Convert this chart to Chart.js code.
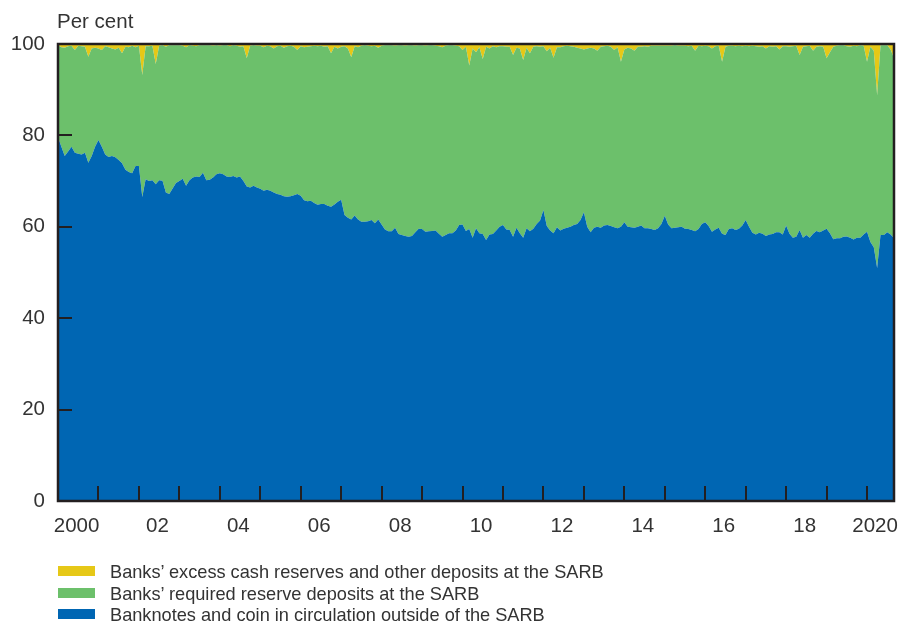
<!DOCTYPE html>
<html>
<head>
<meta charset="utf-8">
<script src="https://cdn.jsdelivr.net/npm/chart.js@4.4.1/dist/chart.umd.min.js"></script>
<style>
  html, body { margin: 0; padding: 0; background: #ffffff; }
  #wrap { position: relative; width: 899px; height: 622px; overflow: hidden; font-family: "Liberation Sans", Arial, sans-serif; color: #333333; }
  #c { position: absolute; left: 0; top: 0; }
  #unit { position: absolute; left: 57px; top: 11px; font-size: 20.5px; line-height: 20.5px; white-space: nowrap; }
  .lg { position: absolute; left: 0; height: 18px; font-size: 18.2px; line-height: 18px; white-space: nowrap; }
  .lg .box { position: absolute; left: 58px; top: 3px; width: 37px; height: 10px; }
  .lg .txt { position: absolute; left: 110px; top: 0; }
</style>
</head>
<body>
<div id="wrap">
  <canvas id="c" width="899" height="622"></canvas>
  <div id="unit">Per cent</div>
  <div id="legend"></div>
</div>
<script>
// ---- Data: monthly shares (per cent), January 2000 to September 2020 ----
const startYear = 2000;
const monthCount = 249;

// Banknotes and coin in circulation outside of the SARB
const banknotes = [
  79.6, 77.5, 75.5, 76.5, 77.5, 76.2, 76.0, 75.8, 76.2, 74.0, 75.5, 77.5,
  79.0, 77.5, 75.8, 75.3, 75.5, 75.2, 74.6, 73.9, 72.5, 72.0, 71.7, 73.3,
  73.3, 66.5, 70.4, 70.0, 70.2, 69.3, 70.2, 70.1, 67.5, 67.2, 68.4, 69.6,
  70.0, 70.5, 69.0, 70.2, 70.8, 71.0, 70.9, 71.8, 70.2, 70.3, 70.8, 71.5,
  71.7, 71.5, 71.0, 70.9, 71.1, 70.8, 71.0, 70.0, 68.8, 68.6, 69.0, 68.6,
  68.3, 67.9, 68.1, 67.9, 67.5, 67.2, 67.0, 66.7, 66.6, 66.7, 66.9, 67.2,
  66.8, 65.8, 65.6, 65.7, 65.2, 64.8, 65.0, 65.0, 64.6, 64.4, 64.9, 65.5,
  65.9, 62.6, 62.0, 61.6, 62.5, 61.6, 61.1, 61.1, 61.2, 61.5, 60.8, 61.6,
  60.5, 59.4, 59.0, 59.0, 59.8, 58.4, 58.2, 58.0, 57.8, 58.0, 58.8, 59.6,
  59.5, 58.9, 59.0, 59.1, 59.2, 58.5, 57.8, 58.2, 58.6, 58.6, 59.2, 60.4,
  60.5, 59.1, 59.5, 57.6, 59.7, 58.6, 58.4, 57.1, 58.3, 58.4, 59.2, 60.0,
  60.4, 59.4, 59.3, 57.8, 59.8, 58.6, 57.6, 59.7, 59.0, 59.6, 60.6, 61.4,
  63.7, 60.2, 59.2, 58.6, 59.9, 59.2, 59.6, 59.8, 60.0, 60.4, 60.6, 61.5,
  63.2, 60.0, 58.8, 59.8, 60.0, 59.8, 60.3, 60.4, 60.2, 59.9, 59.7, 60.0,
  61.0, 60.0, 59.9, 59.8, 60.0, 60.3, 59.7, 59.7, 59.5, 59.3, 59.7, 60.6,
  62.4, 60.5, 59.7, 59.8, 59.9, 60.0, 59.6, 59.5, 59.3, 59.0, 59.5, 60.6,
  61.0, 60.2, 58.9, 59.4, 59.8, 58.5, 58.2, 59.5, 59.7, 59.3, 59.6, 60.3,
  61.5, 60.0, 58.7, 58.3, 58.7, 58.5, 58.0, 58.3, 58.4, 58.8, 58.8, 58.3,
  60.3, 58.5, 57.6, 57.8, 59.3, 57.6, 58.2, 57.6, 58.5, 59.1, 58.8, 59.2,
  59.6, 58.6, 57.3, 57.5, 57.5, 57.8, 57.9, 57.6, 57.2, 57.6, 57.6, 58.3,
  58.9, 56.7, 55.5, 51.0, 58.2, 58.2, 58.8, 58.3, 57.5
];

// Banks' required reserve deposits at the SARB
const requiredReserves = [
  20.1, 21.8, 23.7, 23.0, 22.1, 22.5, 23.6, 23.7, 23.2, 23.2, 23.5, 21.7,
  20.0, 21.2, 23.7, 24.0, 23.5, 23.6, 24.6, 24.1, 26.9, 27.3, 27.9, 26.0,
  26.3, 26.7, 29.1, 29.5, 29.4, 26.3, 29.4, 29.6, 31.9, 32.5, 31.3, 30.1,
  29.7, 29.1, 30.3, 29.5, 28.8, 28.5, 28.8, 27.9, 29.5, 29.4, 28.8, 28.2,
  27.9, 28.2, 28.7, 28.6, 28.6, 28.8, 28.4, 29.5, 28.1, 31.0, 30.7, 31.0,
  31.3, 31.4, 31.5, 31.6, 31.5, 32.3, 32.6, 32.5, 32.9, 32.9, 32.5, 31.5,
  32.7, 33.5, 33.8, 33.8, 34.4, 34.7, 34.6, 34.4, 34.9, 33.6, 34.5, 33.5,
  33.5, 36.9, 37.0, 35.5, 37.0, 37.7, 38.5, 38.6, 38.4, 38.0, 38.8, 37.6,
  39.1, 40.3, 40.7, 40.7, 39.8, 41.3, 41.5, 41.6, 41.9, 41.7, 40.8, 40.1,
  40.2, 40.7, 40.7, 40.6, 40.4, 41.0, 41.5, 41.4, 41.1, 41.1, 40.4, 39.1,
  38.2, 40.3, 35.8, 41.4, 38.5, 40.7, 38.3, 42.3, 40.7, 41.1, 40.1, 39.5,
  39.1, 40.0, 40.1, 39.8, 39.4, 40.4, 38.9, 39.5, 39.0, 39.8, 38.9, 38.0,
  35.8, 38.2, 40.0, 38.4, 39.4, 40.1, 39.9, 39.8, 39.5, 39.0, 38.6, 37.5,
  35.6, 39.0, 40.4, 39.2, 38.5, 39.6, 39.2, 39.2, 39.2, 38.8, 39.6, 36.1,
  37.8, 39.2, 39.1, 38.7, 39.4, 39.1, 39.8, 39.7, 40.1, 40.3, 39.9, 39.0,
  37.2, 39.1, 39.9, 39.9, 39.7, 39.6, 40.0, 40.0, 40.3, 39.5, 40.1, 38.9,
  38.6, 39.3, 40.1, 40.1, 39.8, 37.6, 41.2, 40.1, 39.9, 40.2, 40.0, 39.2,
  38.1, 39.5, 40.9, 41.2, 40.7, 41.0, 41.0, 41.2, 41.0, 40.7, 40.0, 41.2,
  39.2, 40.9, 41.9, 41.8, 38.3, 41.8, 41.3, 42.0, 40.0, 40.3, 40.7, 40.2,
  37.3, 39.6, 42.1, 42.1, 42.2, 41.9, 41.6, 41.8, 42.4, 41.9, 42.1, 41.3,
  37.2, 42.7, 43.0, 37.8, 41.5, 41.5, 40.9, 40.5, 39.4
];

// Banks' excess cash reserves and other deposits at the SARB
const excessReserves = [
  0.3, 0.7, 0.8, 0.5, 0.4, 1.3, 0.4, 0.5, 0.6, 2.8, 1.0, 0.8,
  1.0, 1.3, 0.5, 0.7, 1.0, 1.2, 0.8, 2.0, 0.6, 0.7, 0.4, 0.7,
  0.4, 6.8, 0.5, 0.5, 0.4, 4.4, 0.4, 0.3, 0.6, 0.3, 0.3, 0.3,
  0.3, 0.4, 0.7, 0.3, 0.4, 0.5, 0.3, 0.3, 0.3, 0.3, 0.4, 0.3,
  0.4, 0.3, 0.3, 0.5, 0.3, 0.4, 0.6, 0.5, 3.1, 0.4, 0.3, 0.4,
  0.4, 0.7, 0.4, 0.5, 1.0, 0.5, 0.4, 0.8, 0.5, 0.4, 0.6, 1.3,
  0.5, 0.7, 0.6, 0.5, 0.4, 0.5, 0.4, 0.6, 0.5, 2.0, 0.6, 1.0,
  0.6, 0.5, 1.0, 2.9, 0.5, 0.7, 0.4, 0.3, 0.4, 0.5, 0.4, 0.8,
  0.4, 0.3, 0.3, 0.3, 0.4, 0.3, 0.3, 0.4, 0.3, 0.3, 0.4, 0.3,
  0.3, 0.4, 0.3, 0.3, 0.4, 0.5, 0.7, 0.4, 0.3, 0.3, 0.4, 0.5,
  1.3, 0.6, 4.7, 1.0, 1.8, 0.7, 3.3, 0.6, 1.0, 0.5, 0.7, 0.5,
  0.5, 0.6, 0.6, 2.4, 0.8, 1.0, 3.5, 0.8, 2.0, 0.6, 0.5, 0.6,
  0.5, 1.6, 0.8, 3.0, 0.7, 0.7, 0.5, 0.4, 0.5, 0.6, 0.8, 1.0,
  1.2, 1.0, 0.8, 1.0, 1.5, 0.6, 0.5, 0.4, 0.6, 1.3, 0.7, 3.9,
  1.2, 0.8, 1.0, 1.5, 0.6, 0.6, 0.5, 0.6, 0.4, 0.4, 0.4, 0.4,
  0.4, 0.4, 0.4, 0.3, 0.4, 0.4, 0.4, 0.5, 0.4, 1.5, 0.4, 0.5,
  0.4, 0.5, 1.0, 0.5, 0.4, 3.9, 0.6, 0.4, 0.4, 0.5, 0.4, 0.5,
  0.4, 0.5, 0.4, 0.5, 0.6, 0.5, 1.0, 0.5, 0.6, 0.5, 1.2, 0.5,
  0.5, 0.6, 0.5, 0.4, 2.4, 0.6, 0.5, 0.4, 1.5, 0.6, 0.5, 0.6,
  3.1, 1.8, 0.6, 0.4, 0.3, 0.3, 0.5, 0.6, 0.4, 0.5, 0.3, 0.4,
  3.9, 0.6, 1.5, 11.2, 0.3, 0.3, 0.3, 1.2, 3.1
];

// Axis labels
const yearTickYears = [2001, 2002, 2003, 2004, 2005, 2006, 2007, 2008, 2009, 2010,
                       2011, 2012, 2013, 2014, 2015, 2016, 2017, 2018, 2019, 2020];
const labelYears = [2000, 2002, 2004, 2006, 2008, 2010, 2012, 2014, 2016, 2018, 2020];
const yearLabels = ['2000', '02', '04', '06', '08', '10', '12', '14', '16', '18', '2020'];
const yTickValues = [20, 40, 60, 80];

const seriesNames = [
  'Banknotes and coin in circulation outside of the SARB',
  'Banks\u2019 required reserve deposits at the SARB',
  'Banks\u2019 excess cash reserves and other deposits at the SARB'
];
const colors = { blue: '#0066b3', green: '#6cc06b', yellow: '#e6c817' };

// ---- Build ----
const monthIndex = [];
for (let i = 0; i < monthCount; i++) monthIndex.push(i);
const xMax = monthCount - 1;
const toPts = arr => arr.map((v, i) => ({ x: monthIndex[i], y: v }));
const yearToIdx = yr => (yr - startYear) * 12;
const labelPos = labelYears.map(yr => Math.min(yearToIdx(yr) + 5.5, xMax - 5.6));

const frameTicks = {
  id: 'frameTicks',
  afterDatasetsDraw(chart) {
    const { ctx, chartArea: a, scales: { x, y } } = chart;
    ctx.save();
    ctx.strokeStyle = '#231f20';
    ctx.lineWidth = 2;
    ctx.beginPath();
    yearTickYears.forEach(yr => {
      const px = Math.round(x.getPixelForValue(yearToIdx(yr)));
      ctx.moveTo(px, a.bottom);
      ctx.lineTo(px, a.bottom - 15);
    });
    yTickValues.forEach(v => {
      const py = Math.round(y.getPixelForValue(v));
      ctx.moveTo(a.left, py);
      ctx.lineTo(a.left + 14, py);
    });
    ctx.stroke();
    ctx.lineWidth = 2.5;
    ctx.strokeRect(a.left, a.top, a.right - a.left, a.bottom - a.top);
    ctx.restore();
  }
};

const datasets = [
  { label: seriesNames[0], data: toPts(banknotes), backgroundColor: colors.blue, borderColor: colors.blue, fill: 'origin' },
  { label: seriesNames[1], data: toPts(requiredReserves), backgroundColor: colors.green, borderColor: colors.green, fill: '-1' },
  { label: seriesNames[2], data: toPts(excessReserves), backgroundColor: colors.yellow, borderColor: colors.yellow, fill: '-1' }
].map(d => Object.assign(d, { pointRadius: 0, borderWidth: 0, tension: 0 }));

const chart = new Chart(document.getElementById('c'), {
  type: 'line',
  data: { datasets },
  options: {
    responsive: false,
    animation: false,
    devicePixelRatio: 1,
    layout: { padding: { left: 0, right: 5, top: 44, bottom: 0 } },
    plugins: { legend: { display: false }, tooltip: { enabled: false }, filler: { propagate: false } },
    scales: {
      x: {
        type: 'linear', min: 0, max: xMax,
        grid: { display: false, drawTicks: false },
        border: { display: false },
        afterBuildTicks: s => { s.ticks = labelPos.map(v => ({ value: v })); },
        afterFit: s => { s.height = 121; s.paddingLeft = 0; s.paddingRight = 0; },
        ticks: {
          autoSkip: false, maxRotation: 0, padding: 13, color: '#333333',
          font: { family: '"Liberation Sans", Arial, sans-serif', size: 20.5 },
          callback: (v, i) => yearLabels[i]
        }
      },
      y: {
        stacked: true, min: 0, max: 100,
        grid: { display: false, drawTicks: false },
        border: { display: false },
        afterFit: s => { s.width = 58; s.paddingTop = 0; s.paddingBottom = 0; },
        ticks: {
          stepSize: 20, padding: 13, color: '#333333',
          font: { family: '"Liberation Sans", Arial, sans-serif', size: 20.5 },
          callback: v => String(v)
        }
      }
    }
  },
  plugins: [frameTicks]
});

// HTML legend (top item = top series)
const legend = document.getElementById('legend');
const legendOrder = [2, 1, 0];
legendOrder.forEach((di, row) => {
  const ds = chart.data.datasets[di];
  const el = document.createElement('div');
  el.className = 'lg';
  el.style.top = (563 + row * 21.5) + 'px';
  el.style.width = '899px';
  el.innerHTML = '<span class="box" style="background:' + ds.backgroundColor + '"></span><span class="txt"></span>';
  el.querySelector('.txt').textContent = ds.label;
  legend.appendChild(el);
});
</script>
</body>
</html>
